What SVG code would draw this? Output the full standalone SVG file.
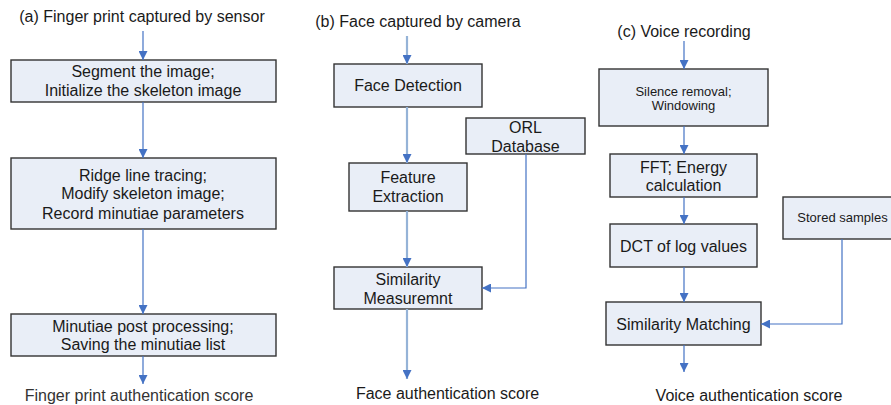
<svg xmlns="http://www.w3.org/2000/svg" width="891" height="405" viewBox="0 0 891 405">
<defs>
<marker id="ah" viewBox="0 0 10 10" refX="10" refY="5" markerWidth="9" markerHeight="9" markerUnits="userSpaceOnUse" orient="auto">
<path d="M0,0 L10,5 L0,10 z" fill="#4472C4"/>
</marker>
<style>
.box{fill:#E9EEF7;stroke:#333;stroke-width:1.4}
.t{font-family:"Liberation Sans",Arial,sans-serif;font-size:16px;fill:#1a1a1a;text-anchor:middle}
.s{font-size:13px}
.lbl{fill:#333}
.c{fill:none;stroke:#4472C4;stroke-width:1.2}
.cl{fill:none;stroke:#95B3D7;stroke-width:2.2}
</style>
</defs>
<rect width="891" height="405" fill="#fff"/>

<g id="titles">
<text class="t" x="142" y="21.5">(a) Finger print captured by sensor</text>
<text class="t" x="418" y="27">(b) Face captured by camera</text>
<text class="t" x="684" y="36.5">(c) Voice recording</text>
</g>

<g id="a1"><rect class="box" x="11" y="60" width="265" height="42"/>
<text class="t" x="143" y="76.5">Segment the image;</text>
<text class="t" x="143" y="95.5">Initialize the skeleton image</text></g>
<g id="a2"><rect class="box" x="11" y="158" width="265" height="71"/>
<text class="t" x="143" y="180.5">Ridge line tracing;</text>
<text class="t" x="143" y="199">Modify skeleton image;</text>
<text class="t" x="143" y="218.5">Record minutiae parameters</text></g>
<g id="a3"><rect class="box" x="11" y="314" width="265" height="42"/>
<text class="t" x="143" y="331.5">Minutiae post processing;</text>
<text class="t" x="143" y="349.5">Saving the minutiae list</text></g>
<g id="a4"><text class="t lbl" x="139" y="400.5">Finger print authentication score</text></g>

<g id="b1"><rect class="box" x="334" y="64" width="148" height="43"/>
<text class="t" x="408" y="90.5">Face Detection</text></g>
<g id="b2"><rect class="box" x="466" y="118" width="119" height="36"/>
<text class="t" x="525.5" y="132.5">ORL</text>
<text class="t" x="525.5" y="151.5">Database</text></g>
<g id="b3"><rect class="box" x="349" y="163" width="118" height="48"/>
<text class="t" x="408" y="182.5">Feature</text>
<text class="t" x="408" y="201.5">Extraction</text></g>
<g id="b4"><rect class="box" x="334" y="267" width="148" height="42"/>
<text class="t" x="408" y="284.5">Similarity</text>
<text class="t" x="408" y="303.5">Measuremnt</text></g>
<g id="b5"><text class="t" x="447.5" y="398.5">Face authentication score</text></g>

<g id="c1"><rect class="box" x="599" y="69" width="169" height="57"/>
<text class="t s" x="683.5" y="95.5">Silence removal;</text>
<text class="t s" x="683.5" y="109.5">Windowing</text></g>
<g id="c2"><rect class="box" x="610" y="154" width="147" height="43"/>
<text class="t" x="683.5" y="172.5">FFT; Energy</text>
<text class="t" x="683.5" y="190.5">calculation</text></g>
<g id="c3"><rect class="box" x="783" y="197" width="118" height="42"/>
<text class="t s" x="842.5" y="221.5">Stored samples</text></g>
<g id="c4"><rect class="box" x="610" y="224" width="147" height="43"/>
<text class="t" x="683.5" y="251.5">DCT of log values</text></g>
<g id="c5"><rect class="box" x="606" y="302" width="155" height="43"/>
<text class="t" x="683.5" y="329.5">Similarity Matching</text></g>
<g id="c6"><text class="t" x="749" y="400.5">Voice authentication score</text></g>

<g id="connectors">
<line class="c" x1="143" y1="31" x2="143" y2="60" marker-end="url(#ah)"/>
<line class="c" x1="143" y1="102" x2="143" y2="158" marker-end="url(#ah)"/>
<line class="c" x1="143" y1="229" x2="143" y2="314" marker-end="url(#ah)"/>
<line class="c" x1="143" y1="356" x2="143" y2="384" marker-end="url(#ah)"/>

<line class="cl" x1="407" y1="36" x2="407" y2="64" marker-end="url(#ah)"/>
<line class="cl" x1="407" y1="107" x2="407" y2="163" marker-end="url(#ah)"/>
<line class="cl" x1="407" y1="211" x2="407" y2="267" marker-end="url(#ah)"/>
<line class="cl" x1="407" y1="309" x2="407" y2="379" marker-end="url(#ah)"/>
<path class="c" d="M526,154 V288 H482" marker-end="url(#ah)"/>

<line class="c" x1="684" y1="41" x2="684" y2="69" marker-end="url(#ah)"/>
<line class="c" x1="684" y1="126" x2="684" y2="154" marker-end="url(#ah)"/>
<line class="c" x1="684" y1="197" x2="684" y2="224" marker-end="url(#ah)"/>
<line class="c" x1="684" y1="267" x2="684" y2="302" marker-end="url(#ah)"/>
<line class="c" x1="684" y1="345" x2="684" y2="372" marker-end="url(#ah)"/>
<path class="c" d="M842,239 V324 H761" marker-end="url(#ah)"/>
</g>
</svg>
